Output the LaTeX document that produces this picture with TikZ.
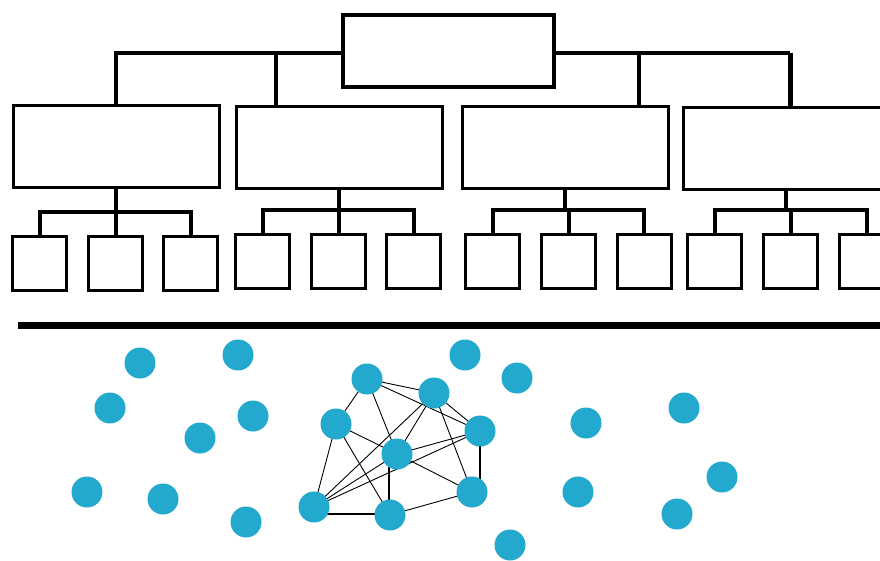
\documentclass[tikz,border=0pt]{standalone}
\begin{document}
\begin{tikzpicture}[x=1pt,y=-1pt,
  topbox/.style={draw,line width=4pt,minimum width=211pt,minimum height=72pt,inner sep=0pt},
  midbox/.style={draw,line width=3pt,minimum width=206pt,minimum height=82pt,inner sep=0pt},
  leafbox/.style={draw,line width=3pt,minimum width=54pt,minimum height=54pt,inner sep=0pt},
  link/.style={line width=4pt},
  dot/.style={circle,fill=dotblue,minimum size=31pt,inner sep=0pt},
  edge/.style={line width=0.9pt,shorten <=-3pt,shorten >=-3pt}]
\definecolor{dotblue}{HTML}{23A9CE}
\useasboundingbox (0,0) rectangle (880,561);
\clip (0,0) rectangle (880,561);
\fill[white] (0,0) rectangle (880,561);

% hierarchy
\node[topbox] (top) at (448.5,51.5) {};
\node[midbox] (b1) at (116,146.5) {};
\node[midbox] (b2) at (339,148) {};
\node[midbox] (b3) at (565,148) {};
\node[midbox] (b4) at (786,149) {};

\coordinate (j1) at (276,53);
\coordinate (j2) at (639,53);
\coordinate (j3) at (790,53);
\draw[link] (top.west |- j1) -| (b1.north);
\draw[link] (j1) -- (j1 |- b2.north);
\draw[link] (top.east |- j2) -- (j3);
\draw[line width=5pt] (j3) -- (j3 |- b4.north);
\draw[link] (j2) -- (j2 |- b3.north);

% leaves
\foreach \g/\a/\b/\c/\y in {1/39.5/115.5/190.5/263.5, 2/262.5/338.5/413.5/261.5, 3/492.5/568.5/644/261.5, 4/714.5/790.5/866.5/261.5}{
  \node[leafbox] (l\g a) at (\a,\y) {};
  \node[leafbox] (l\g b) at (\b,\y) {};
  \node[leafbox] (l\g c) at (\c,\y) {};
  \draw[link] (l\g a.north) -- ++(0,-23) coordinate (bar\g) -| (l\g c.north);
  \draw[link] (l\g b.north) -- (l\g b.north |- bar\g);
  \draw[link] (b\g.south) -- (b\g.south |- bar\g);
}

% divider
\coordinate (d1) at (18,325);
\coordinate (d2) at (880,325);
\draw[line width=7pt] (d1) -- (d2);

% scattered dots
\foreach \x/\y [count=\i] in {140/363, 238/355, 465/355, 517/378, 110/408, 200/438, 253/416, 586/423,
  684/408, 87/492, 163/499, 246/522, 578/492, 722/477, 677/514, 510/545}
  \node[dot] (s\i) at (\x,\y) {};

% connected cluster
\coordinate (A) at (367,379);
\coordinate (B) at (434,393);
\coordinate (C) at (336,424);
\coordinate (D) at (480,431);
\coordinate (E) at (397,454);
\coordinate (F) at (314,507);
\coordinate (G) at (390,515);
\coordinate (H) at (472,492);
\foreach \u/\v in {A/B,A/C,A/D,A/E,B/D,B/E,B/F,B/H,C/E,C/F,C/G,D/E,D/F,E/F,E/H,G/H}
  \draw[edge] (\u) -- (\v);
% straight runs between offset nodes
\coordinate (eg) at (389,454);
\coordinate (fg) at (314,514);
\coordinate (dh) at (480,492);
\draw[line width=1.3pt] (eg) -- (eg |- G);
\draw[line width=1.3pt] (fg) -- (fg -| G);
\draw[line width=2.2pt] (D) -- (dh);
\foreach \n in {A,B,C,D,E,F,G,H}
  \node[dot] (n\n) at (\n) {};
\end{tikzpicture}
\end{document}
